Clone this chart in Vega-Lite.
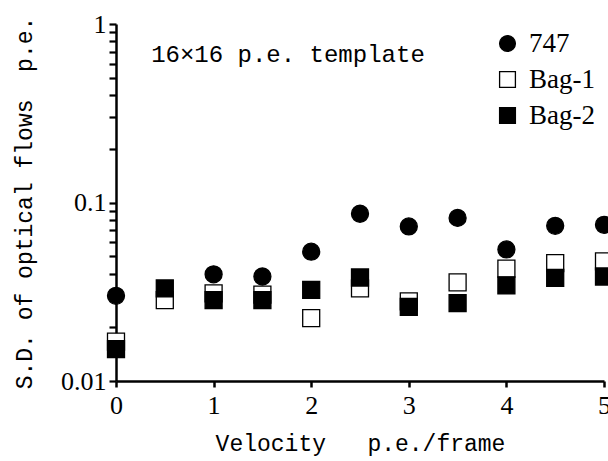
{
  "$schema": "https://vega.github.io/schema/vega-lite/v6.json",
  "width": 488,
  "height": 357,
  "autosize": {"type": "none"},
  "padding": {"left": 116, "top": 24, "right": 4, "bottom": 80},
  "background": "white",
  "config": {"view": {"stroke": null}},
  "datasets": {
    "pts": [
      {"v": 0, "sd": 0.030, "series": "747"},
      {"v": 1, "sd": 0.0396, "series": "747"},
      {"v": 1.5, "sd": 0.0385, "series": "747"},
      {"v": 2, "sd": 0.053, "series": "747"},
      {"v": 2.5, "sd": 0.0865, "series": "747"},
      {"v": 3, "sd": 0.0734, "series": "747"},
      {"v": 3.5, "sd": 0.082, "series": "747"},
      {"v": 4, "sd": 0.0546, "series": "747"},
      {"v": 4.5, "sd": 0.074, "series": "747"},
      {"v": 5, "sd": 0.075, "series": "747"},
      {"v": 0, "sd": 0.0166, "series": "Bag-1"},
      {"v": 0.5, "sd": 0.0284, "series": "Bag-1"},
      {"v": 1, "sd": 0.031, "series": "Bag-1"},
      {"v": 1.5, "sd": 0.0305, "series": "Bag-1"},
      {"v": 2, "sd": 0.0225, "series": "Bag-1"},
      {"v": 2.5, "sd": 0.033, "series": "Bag-1"},
      {"v": 3, "sd": 0.0279, "series": "Bag-1"},
      {"v": 3.5, "sd": 0.0357, "series": "Bag-1"},
      {"v": 4, "sd": 0.0426, "series": "Bag-1"},
      {"v": 4.5, "sd": 0.0458, "series": "Bag-1"},
      {"v": 5, "sd": 0.0468, "series": "Bag-1"},
      {"v": 0, "sd": 0.0151, "series": "Bag-2"},
      {"v": 0.5, "sd": 0.033, "series": "Bag-2"},
      {"v": 1, "sd": 0.0284, "series": "Bag-2"},
      {"v": 1.5, "sd": 0.0284, "series": "Bag-2"},
      {"v": 2, "sd": 0.0324, "series": "Bag-2"},
      {"v": 2.5, "sd": 0.038, "series": "Bag-2"},
      {"v": 3, "sd": 0.026, "series": "Bag-2"},
      {"v": 3.5, "sd": 0.0273, "series": "Bag-2"},
      {"v": 4, "sd": 0.0343, "series": "Bag-2"},
      {"v": 4.5, "sd": 0.0378, "series": "Bag-2"},
      {"v": 5, "sd": 0.0385, "series": "Bag-2"}
    ],
    "note": [{"v": 0.36, "sd": 0.67, "label": "16×16 p.e. template"}]
  },
  "encoding": {
    "x": {
      "field": "v", "type": "quantitative",
      "scale": {"domain": [0, 5], "nice": false, "zero": false},
      "axis": {
        "values": [0, 1, 2, 3, 4, 5],
        "format": "d",
        "gridOpacity": 0, "labelFlush": false,
        "domainColor": "#000000", "domainWidth": 2.5,
        "ticks": true, "tickColor": "#000000", "tickWidth": 2.5, "tickSize": 6, "tickOpacity": 1,
        "labelFont": "Liberation Serif", "labelFontSize": 26, "labelColor": "#000000",
        "labelPadding": 5,
        "title": "Velocity\u00a0\u00a0\u00a0p.e./frame",
        "titleFont": "Liberation Mono", "titleFontSize": 23, "titleFontWeight": "normal",
        "titleColor": "#000000", "titlePadding": 14
      }
    },
    "y": {
      "field": "sd", "type": "quantitative",
      "scale": {"type": "log", "domain": [0.01, 1], "nice": false},
      "axis": {
        "values": [0.01, 0.02, 0.03, 0.04, 0.05, 0.06, 0.07, 0.08, 0.09, 0.1, 0.2, 0.3, 0.4, 0.5, 0.6, 0.7, 0.8, 0.9, 1],
        "labelExpr": "datum.value == 1 ? '1' : datum.value == 0.1 ? '0.1' : datum.value == 0.01 ? '0.01' : ''",
        "gridOpacity": 0, "labelFlush": false,
        "domainColor": "#000000", "domainWidth": 2.5,
        "ticks": true, "tickColor": "#000000", "tickWidth": 2.2, "tickSize": 7, "tickOpacity": 1,
        "labelFont": "Liberation Serif", "labelFontSize": 26, "labelColor": "#000000",
        "labelPadding": 3,
        "title": "S.D. of optical flows\u00a0\u00a0p.e.",
        "titleFont": "Liberation Mono", "titleFontSize": 23, "titleFontWeight": "normal",
        "titleColor": "#000000", "titlePadding": 24
      }
    }
  },
  "layer": [
    {
      "data": {"name": "pts"},
      "mark": {"type": "point", "filled": true, "stroke": "black", "strokeWidth": 1.3, "opacity": 1, "size": 289, "clip": false},
      "encoding": {
        "shape": {
          "field": "series", "type": "nominal",
          "scale": {"domain": ["747", "Bag-1", "Bag-2"], "range": ["circle", "square", "square"]},
          "legend": {
            "title": null, "orient": "none", "legendX": 378, "legendY": 6,
            "labelFont": "Liberation Serif", "labelFontSize": 27, "labelColor": "black",
            "symbolSize": 250, "symbolStrokeColor": "black", "symbolStrokeWidth": 1.3,
            "rowPadding": 8, "labelOffset": 8
          }
        },
        "fill": {
          "field": "series", "type": "nominal",
          "scale": {"domain": ["747", "Bag-1", "Bag-2"], "range": ["black", "white", "black"]},
          "legend": {
            "title": null, "orient": "none", "legendX": 378, "legendY": 6,
            "labelFont": "Liberation Serif", "labelFontSize": 27, "labelColor": "black",
            "symbolSize": 250, "symbolStrokeColor": "black", "symbolStrokeWidth": 1.3,
            "rowPadding": 8, "labelOffset": 8
          }
        },
        "stroke": {
          "field": "series", "type": "nominal",
          "scale": {"domain": ["747", "Bag-1", "Bag-2"], "range": ["black", "black", "black"]},
          "legend": {
            "title": null, "orient": "none", "legendX": 378, "legendY": 6,
            "labelFont": "Liberation Serif", "labelFontSize": 27, "labelColor": "black",
            "symbolSize": 250, "symbolStrokeColor": "black", "symbolStrokeWidth": 1.3,
            "rowPadding": 8, "labelOffset": 8
          }
        }
      }
    },
    {
      "data": {"name": "note"},
      "mark": {"type": "text", "font": "Liberation Mono", "fontSize": 24, "color": "black", "align": "left", "baseline": "middle"},
      "encoding": {
        "text": {"field": "label"}
      }
    }
  ]
}
